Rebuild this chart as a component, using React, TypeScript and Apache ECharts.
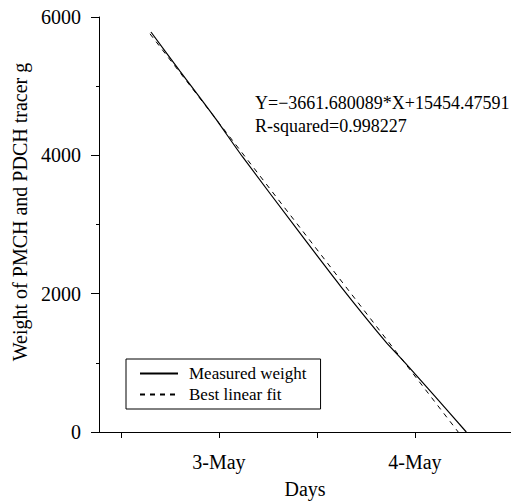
import React, { useEffect, useRef } from "react";
import * as echarts from "echarts";

// Measured weight (X in days, 3 = 3-May)
const measuredX = [2.653, 2.8, 2.97, 3.12, 3.4, 3.62, 3.85, 3.95, 4.1, 4.262];
const measuredY = [5783, 5222, 4580, 3980, 2925, 2110, 1307, 1000, 522, 0];
// Best linear fit end points
const fitX = [2.648, 4.2207];
const fitY = [5757, 0];

const xTickValues = [2.5, 3, 3.5, 4];
const xLabelValues = [3, 4];
const xLabelTexts = ["3-May", "4-May"];

const seriesNames = ["Measured weight", "Best linear fit"];
const yAxisTitle = "Weight of PMCH and PDCH tracer g";
const xAxisTitle = "Days";
const equationText = "Y=\u22123661.680089*X+15454.47591";
const rSquaredText = "R-squared=0.998227";

const FONT = "Liberation Serif";

export default function App() {
  const ref = useRef<HTMLDivElement>(null);
  useEffect(() => {
    if (!ref.current) return;
    const chart = echarts.init(ref.current, null, { renderer: "svg" });
    const measured = measuredX.map((x, i) => [x, measuredY[i]]);
    const fit = fitX.map((x, i) => [x, fitY[i]]);
    chart.setOption({
      animation: false,
      backgroundColor: "#fff",
      textStyle: { fontFamily: FONT, color: "#000" },
      grid: { left: 99, top: 17, right: 0, bottom: 72, containLabel: false },
      xAxis: {
        type: "value",
        min: 2.388,
        max: 4.49,
        name: xAxisTitle,
        nameLocation: "middle",
        nameGap: 47,
        nameTextStyle: { fontFamily: FONT, fontSize: 20, color: "#000" },
        axisLine: { show: true, onZero: false, lineStyle: { color: "#000", width: 1 } },
        axisTick: { show: true, length: 6, customValues: xTickValues, lineStyle: { color: "#000" } },
        axisLabel: {
          customValues: xLabelValues,
          margin: 20,
          fontFamily: FONT,
          fontSize: 20,
          color: "#000",
          formatter: (v: number) => {
            const i = xLabelValues.indexOf(Math.round(v));
            return i >= 0 ? xLabelTexts[i] : "";
          },
        },
        splitLine: { show: false },
      },
      yAxis: {
        type: "value",
        min: 0,
        max: 6000,
        interval: 2000,
        axisLine: { show: true, lineStyle: { color: "#000", width: 1 } },
        axisTick: { show: true, length: 8, lineStyle: { color: "#000" } },
        minorTick: { show: true, splitNumber: 2, length: 3, lineStyle: { color: "#000" } },
        axisLabel: {
          margin: 18,
          fontFamily: FONT,
          fontSize: 20,
          color: "#000",
          formatter: (v: number) => String(v),
        },
        splitLine: { show: false },
      },
      legend: {
        orient: "vertical",
        left: 126,
        top: 359,
        padding: [6, 14, 6, 13],
        itemGap: 4,
        itemWidth: 38,
        itemHeight: 14,
        borderColor: "#000",
        borderWidth: 1,
        backgroundColor: "#fff",
        data: seriesNames,
        itemStyle: { opacity: 0 },
        textStyle: { fontFamily: FONT, fontSize: 17, color: "#000", lineHeight: 17, padding: [0, 0, 0, 6] },
      },
      series: [
        {
          name: seriesNames[0],
          type: "line",
          data: measured,
          symbol: "none",
          smooth: 0.2,
          lineStyle: { color: "#000", width: 1.2, type: "solid" },
          itemStyle: { color: "#000" },
          z: 3,
        },
        {
          name: seriesNames[1],
          type: "line",
          data: fit,
          symbol: "none",
          lineStyle: { color: "#000", width: 1, type: [5, 5] },
          itemStyle: { color: "#000" },
          z: 2,
        },
      ],
      graphic: [
        {
          type: "text",
          x: 20,
          y: 212,
          rotation: Math.PI / 2,
          style: {
            text: yAxisTitle,
            font: `20px "${FONT}"`,
            fill: "#000",
            align: "center",
            verticalAlign: "middle",
          },
        },
        {
          type: "text",
          left: 255,
          top: 94,
          style: { text: equationText, font: `18px "${FONT}"`, fill: "#000" },
        },
        {
          type: "text",
          left: 255,
          top: 117,
          style: { text: rSquaredText, font: `18px "${FONT}"`, fill: "#000" },
        },
      ],
    });
    return () => chart.dispose();
  }, []);
  return (
    <div
      ref={ref}
      style={{ position: "fixed", left: 0, top: 0, width: 511, height: 504, background: "#fff" }}
    />
  );
}
